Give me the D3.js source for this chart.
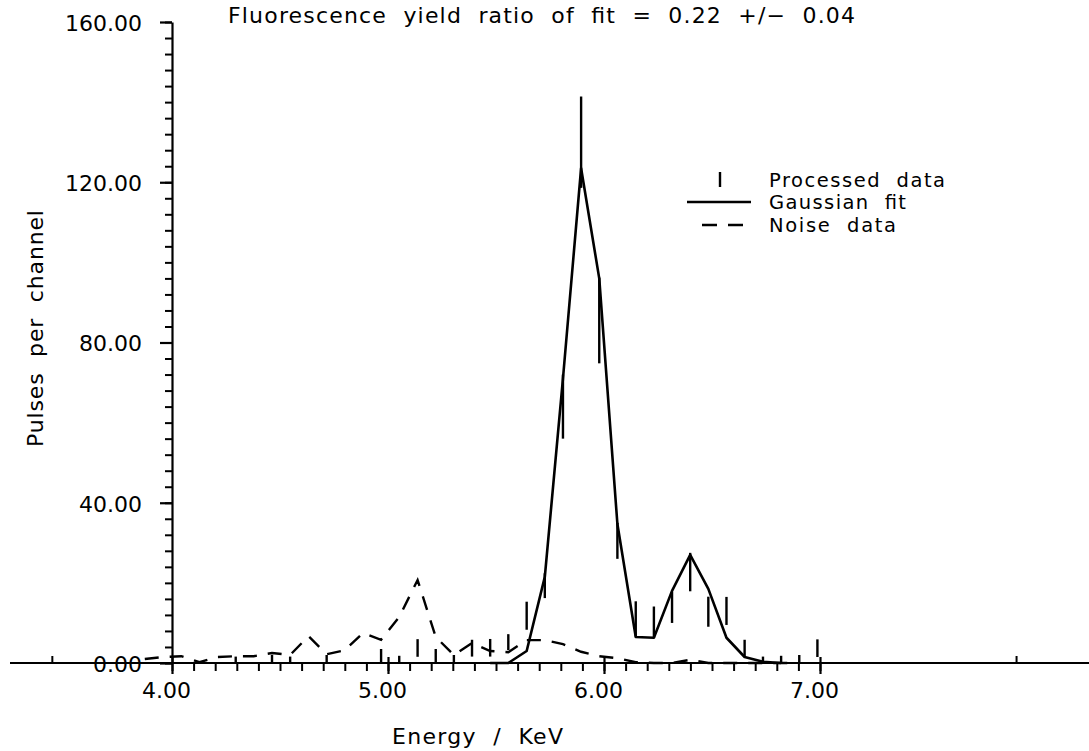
<!DOCTYPE html>
<html><head><meta charset="utf-8">
<script src="https://cdn.jsdelivr.net/npm/d3@7"></script>
<style>body{margin:0;background:#fff}svg{display:block}text.pre{white-space:pre}</style>
</head><body>
<svg id="c" width="1089" height="751"></svg>
<script>
// ---- data ----
const energies = [3.874, 3.958, 4.043, 4.127, 4.211, 4.295, 4.379, 4.463, 4.547, 4.632,
                  4.716, 4.800, 4.884, 4.968, 5.052, 5.137, 5.221, 5.305, 5.389, 5.473,
                  5.557, 5.642, 5.726, 5.810, 5.894, 5.978, 6.062, 6.147, 6.231, 6.315,
                  6.399, 6.483, 6.567, 6.651, 6.736, 6.820, 6.904, 6.988];
const processed = [0, 0, 0, 0, 0, 0.8, 0, 1, 0.8, 0,
                   1, 0, 0, 1.75, 0.9, 3.75, 1.75, 1, 3.7, 3.8,
                   5.2, 11.8, 19.3, 64, 130, 85.5, 30.5, 11, 10.2, 13.9,
                   22.7, 12.8, 13, 3.7, 0.8, 0.9, 1, 3.7];
const processedErr = [0, 0, 0, 0, 0, 0.8, 0, 1, 0.8, 0,
                      1, 0, 0, 1.75, 0.9, 2.2, 1.75, 1, 2.1, 2.2,
                      2.0, 3.5, 3.1, 8, 11.4, 10.7, 4.5, 4.4, 3.9, 3.9,
                      4.8, 3.75, 3.5, 2.1, 0.8, 0.9, 1, 2.2];
const gaussianFit = [null, null, null, null, null, null, null, null, null, null,
                     null, null, null, null, null, null, null, null, null, 0,
                     0, 3, 21.5, 71, 123.5, 96, 34.7, 6.5, 6.3, 18,
                     27, 18.5, 6.3, 1.5, 0.3, 0, null, null];
const noise = [1, 1.5, 1.7, 0.2, 1.5, 1.7, 1.7, 2.5, 2, 6.7,
               2.2, 3.2, 7.5, 5.8, 11.5, 20.7, 6.5, 2, 5, 3,
               2.7, 5.7, 5.7, 4.7, 2.8, 1.7, 1.2, 0.2, 0, 0,
               0.8, 0, 0, 0, 0, 0, 0, null];

const xMajorTicks = [4, 5, 6, 7];
const xTickLabels = ["4.00", "5.00", "6.00", "7.00"];
const yMajorTicks = [0, 40, 80, 120, 160];
const yTickLabels = ["0.00", "40.00", "80.00", "120.00", "160.00"];
const xAxisExtent = [3.25, 8.35];
const xEndTicks = [3.446, 7.91];
const titleText = "Fluorescence  yield  ratio  of  fit  =  0.22  +/\u2212  0.04";
const xTitle = "Energy  /  KeV";
const yTitle = "Pulses  per  channel";
const legendLabels = ["Processed  data", "Gaussian  fit", "Noise  data"];

// ---- drawing ----
const FONT = "DejaVu Sans";
const svg = d3.select("#c");
const x = d3.scaleLinear().domain([4, 7]).range([172, 820]);
const y = d3.scaleLinear().domain([0, 160]).range([663, 22]);

function fitText(sel, w) {
  sel.attr("class", "pre").attr("textLength", w).attr("lengthAdjust", "spacing");
}

// X axis line
svg.append("line")
  .attr("x1", x(xAxisExtent[0])).attr("x2", x(xAxisExtent[1]))
  .attr("y1", y(0)).attr("y2", y(0))
  .attr("stroke", "#000").attr("stroke-width", 2.2);

// x minor ticks
const xMinor = d3.range(40, 71).map(d => d / 10);
const gxMinor = svg.append("g").attr("transform", `translate(0,${y(0)})`)
  .call(d3.axisBottom(x).tickValues(xMinor).tickSize(8).tickFormat("").tickSizeOuter(0));
gxMinor.select(".domain").remove();
gxMinor.selectAll("line").attr("stroke-width", 2);

// x major ticks & labels
const gx = svg.append("g").attr("transform", `translate(0,${y(0)})`)
  .call(d3.axisBottom(x).tickValues(xMajorTicks).tickSize(11).tickSizeOuter(0)
    .tickPadding(3).tickFormat((d, i) => xTickLabels[i]));
gx.select(".domain").remove();
gx.selectAll("line").attr("y1", -6).attr("stroke-width", 2.2);
gx.selectAll("text").attr("font-family", FONT).attr("font-size", 22)
  .attr("fill", "#000").attr("dx", -6).attr("dy", "0.95em");

// extra end ticks (upwards)
svg.selectAll(".endtick").data(xEndTicks).join("line")
  .attr("x1", d => x(d)).attr("x2", d => x(d))
  .attr("y1", y(0)).attr("y2", y(0) - 7)
  .attr("stroke", "#000").attr("stroke-width", 2);

// y axis minor ticks
const yMinor = d3.range(0, 161, 4);
const gyMinor = svg.append("g").attr("transform", `translate(${x(4)},0)`)
  .call(d3.axisLeft(y).tickValues(yMinor).tickSize(7).tickFormat("").tickSizeOuter(0));
gyMinor.select(".domain").attr("stroke-width", 2.2);
gyMinor.selectAll("line").attr("stroke-width", 2);

// y axis major ticks & labels
const gy = svg.append("g").attr("transform", `translate(${x(4)},0)`)
  .call(d3.axisLeft(y).tickValues(yMajorTicks).tickSize(12).tickSizeOuter(0)
    .tickPadding(18).tickFormat((d, i) => yTickLabels[i]));
gy.select(".domain").remove();
gy.selectAll("line").attr("stroke-width", 2.2);
gy.selectAll("text").attr("font-family", FONT).attr("font-size", 22)
  .attr("fill", "#000").attr("dy", "0.38em");

// noise data (dashed)
const lineNoise = d3.line().defined(d => d[1] != null)
  .x(d => x(d[0])).y(d => y(d[1]));
svg.append("path")
  .datum(energies.map((e, i) => [e, noise[i]]))
  .attr("d", lineNoise)
  .attr("fill", "none").attr("stroke", "#000").attr("stroke-width", 2.4)
  .attr("stroke-dasharray", "14,11");

// gaussian fit
svg.append("path")
  .datum(energies.map((e, i) => [e, gaussianFit[i]]))
  .attr("d", d3.line().defined(d => d[1] != null).x(d => x(d[0])).y(d => y(d[1])))
  .attr("fill", "none").attr("stroke", "#000").attr("stroke-width", 2.6)
  .attr("stroke-linejoin", "round");

// processed data (vertical bars)
svg.selectAll(".bar").data(energies.map((e, i) => ({e, v: processed[i], s: processedErr[i]})))
  .join("line")
  .filter(d => d.s > 0)
  .attr("x1", d => x(d.e)).attr("x2", d => x(d.e))
  .attr("y1", d => y(d.v - d.s)).attr("y2", d => y(d.v + d.s))
  .attr("stroke", "#000").attr("stroke-width", 2.4);

// title
svg.append("text").attr("x", 228).attr("y", 23)
  .attr("font-family", FONT).attr("font-size", 22).text(titleText)
  .call(fitText, 627);

// x title
svg.append("text").attr("x", 392).attr("y", 744)
  .attr("font-family", FONT).attr("font-size", 22).text(xTitle)
  .call(fitText, 171);

// y title
svg.append("text").attr("transform", "translate(43,447) rotate(-90)")
  .attr("font-family", FONT).attr("font-size", 22).text(yTitle)
  .call(fitText, 237);

// legend
const leg = svg.append("g");
leg.append("line").attr("x1", 720).attr("x2", 720).attr("y1", 172).attr("y2", 187)
  .attr("stroke", "#000").attr("stroke-width", 2.4);
leg.append("line").attr("x1", 687).attr("x2", 751).attr("y1", 202).attr("y2", 202)
  .attr("stroke", "#000").attr("stroke-width", 2.4);
leg.append("line").attr("x1", 702).attr("x2", 745).attr("y1", 225).attr("y2", 225)
  .attr("stroke", "#000").attr("stroke-width", 2.4).attr("stroke-dasharray", "15,11");
const legW = [176, 137, 127];
const legY = [187, 209, 232];
legendLabels.forEach((t, i) => {
  leg.append("text").attr("x", 769).attr("y", legY[i])
    .attr("font-family", FONT).attr("font-size", 19.5).text(t)
    .call(fitText, legW[i]);
});
</script>
</body></html>
